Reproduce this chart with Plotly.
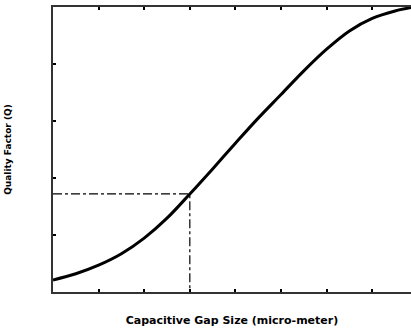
import plotly.graph_objects as go

# Quality factor vs. capacitive gap size
gap_size = [0.0, 0.5, 1.0, 1.5, 2.0, 2.5, 3.0, 3.5, 4.0, 4.5, 5.0, 5.5, 6.0, 6.5, 7.0, 7.5, 7.85]
q_factor = [0.21, 0.32, 0.47, 0.67, 0.945, 1.295, 1.72, 2.16, 2.61, 3.05, 3.465, 3.88, 4.26, 4.58, 4.80, 4.93, 4.99]

# Operating point marked by the dash-dot guide lines
op_gap = 3.0
op_q = 1.72

fig = go.Figure()
fig.add_trace(go.Scatter(
    x=gap_size, y=q_factor, mode="lines",
    line=dict(color="black", width=3, shape="spline", smoothing=1.0),
    showlegend=False, hoverinfo="skip",
))
fig.add_trace(go.Scatter(
    x=[0, op_gap, op_gap], y=[op_q, op_q, 0], mode="lines",
    line=dict(color="black", width=1.2, dash="dashdot"),
    showlegend=False, hoverinfo="skip",
))

axis_common = dict(
    showgrid=False, zeroline=False,
    showline=True, linecolor="#333333", linewidth=2,
    ticks="inside", ticklen=3, tickwidth=2, tickcolor="black",
    showticklabels=False,
)

title_font = "DejaVu Sans, sans-serif"

fig.update_layout(
    width=411, height=331,
    margin=dict(l=53, r=0, t=7, b=39),
    paper_bgcolor="white", plot_bgcolor="white",
    font=dict(family=title_font, color="black"),
    xaxis=dict(
        range=[0, 7.85], dtick=1, tick0=0, mirror="ticks",
        title=dict(text="<b>Capacitive Gap Size (micro-meter)</b>",
                   font=dict(size=11, family=title_font), standoff=23),
        **axis_common,
    ),
    yaxis=dict(
        range=[0, 5], dtick=1, tick0=0,
        title=dict(text="<b>Quality Factor (Q)</b>",
                   font=dict(size=9, family=title_font), standoff=38),
        **axis_common,
    ),
)

fig.write_html("out.html")
